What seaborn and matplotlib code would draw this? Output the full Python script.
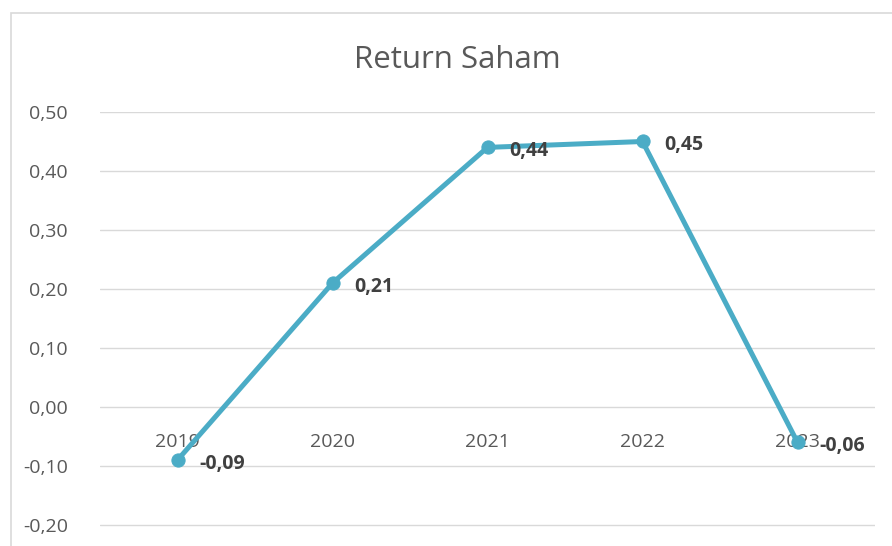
import matplotlib
matplotlib.use("Agg")
import matplotlib.pyplot as plt
import seaborn as sns
import pandas as pd
from matplotlib.patches import Rectangle

years = ["2019", "2020", "2021", "2022", "2023"]
returns = [-0.09, 0.21, 0.44, 0.45, -0.06]
yticks = [-0.20, -0.10, 0.00, 0.10, 0.20, 0.30, 0.40, 0.50]
title = "Return Saham"

sns.set_theme(style="white")
plt.rcParams['font.family'] = ['Open Sans', 'DejaVu Sans']

W, H = 892, 546
fig = plt.figure(figsize=(W/100, H/100), dpi=100)
ax = fig.add_axes([100/W, 1-527/H, 775/W, (527-112)/H])

# chart border (light gray)
fig.patches.append(Rectangle((11/W, -0.1), 2.0, (1-13/H)+0.1, transform=fig.transFigure,
                             fill=False, edgecolor="#D9D9D9", linewidth=1.2))

df = pd.DataFrame({"year": years, "ret": returns})
color = "#4BACC6"
sns.lineplot(data=df, x="year", y="ret", ax=ax, color=color, linewidth=3.6,
             marker="o", markersize=9.5, markeredgecolor=color, markerfacecolor=color,
             zorder=5)

ax.set_xlim(-0.5, 4.5)
ax.set_ylim(-0.2035, 0.50)
ax.set_yticks(yticks)
ax.set_yticklabels([f"{v:.2f}".replace(".", ",") for v in yticks])
ax.yaxis.grid(True, color="#D9D9D9", linewidth=1.0)
ax.set_axisbelow(True)
for s in ["left", "right", "top"]:
    ax.spines[s].set_visible(False)
ax.spines["bottom"].set_position(("data", 0))
ax.spines["bottom"].set_visible(False)
ax.tick_params(axis="y", length=0, pad=23, labelsize=14, labelcolor="#595959")
ax.tick_params(axis="x", length=0, pad=19, labelsize=14, labelcolor="#595959")
ax.set_xlabel("")
ax.set_ylabel("")

for i, v in enumerate(returns):
    ax.annotate(f"{v:.2f}".replace(".", ","), (i, v), xytext=(16, -2.5),
                textcoords="offset points", ha="left", va="center",
                fontsize=14, fontweight="bold", color="#404040", zorder=6)

fig.text(457/W, 1-60/H, title, ha="center", va="center", fontsize=22.5, color="#595959")

fig.savefig("out.png", dpi=100)
